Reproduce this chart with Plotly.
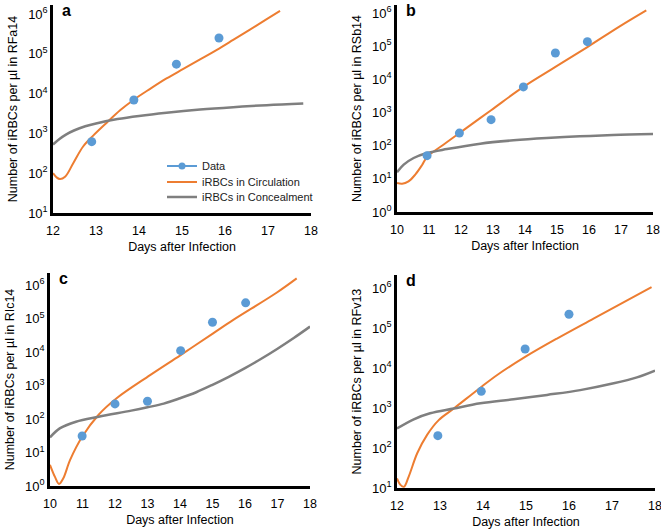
import plotly.graph_objs as go

# panel a - RFa14
a_data_day = [12.9, 13.88, 14.87, 15.86]
a_data_val = [620, 6900, 55000, 250000]
a_circ_day = [12.0, 12.08, 12.16, 12.28, 12.47, 12.70, 12.94, 13.25, 13.56, 13.87, 14.26, 14.64,
              15.03, 15.42, 15.81, 16.19, 16.58, 16.97, 17.28]
a_circ_val = [100, 79, 71, 81, 178, 468, 891, 1860, 3800, 6920, 13200, 24000,
              41700, 72400, 126000, 224000, 407000, 741000, 1200000]
a_conc_day = [12.0, 12.15, 12.3, 12.5, 12.75, 13.0, 13.5, 14.0, 14.64, 15.42, 16.19, 16.97, 17.82]
a_conc_val = [525, 724, 933, 1200, 1510, 1780, 2290, 2750, 3310, 3980, 4570, 5130, 5620]

# panel b - RSb14
b_data_day = [10.94, 11.95, 12.94, 13.95, 14.95, 15.95]
b_data_val = [50, 240, 610, 5900, 62000, 137000]
b_circ_day = [10.0, 10.16, 10.36, 10.57, 10.78, 10.94, 11.45, 11.95, 12.94, 13.95, 14.95, 15.95,
              16.96, 17.79]
b_circ_val = [7.5, 7.1, 8.4, 13.4, 25.7, 45.7, 107, 240, 1170, 5900, 23600, 94000,
              396000, 1200000]
b_conc_day = [10.0, 10.21, 10.52, 10.94, 11.56, 12.60, 13.64, 14.68, 15.71, 16.75, 18.0]
b_conc_val = [15.8, 26.8, 42.5, 60, 79, 115, 145, 170, 191, 209, 224]

# panel c - RIc14
c_data_day = [10.99, 12.0, 13.0, 14.02, 15.0, 16.02]
c_data_val = [31, 282, 339, 11000, 77600, 295000]
c_circ_day = [10.0, 10.15, 10.28, 10.41, 10.62, 10.99, 11.49, 12.05, 13.08, 14.02, 15.02, 15.64,
              16.97, 17.59]
c_circ_val = [4.3, 1.9, 1.15, 1.7, 6.0, 29.5, 132, 417, 2040, 8130, 36300, 91200,
              589000, 1580000]
c_conc_day = [10.0, 10.3, 10.8, 11.5, 12.5, 13.0, 13.5, 14.0, 14.5, 15.0, 15.5, 16.0,
              16.5, 17.0, 17.5, 18.0]
c_conc_val = [28.2, 52.5, 83.2, 117, 178, 224, 288, 417, 631, 1050, 1820, 3310,
              6310, 12600, 26300, 57500]

# panel d - RFv13
d_data_day = [12.95, 13.96, 14.98, 16.0]
d_data_val = [204, 2630, 30200, 224000]
d_circ_day = [12.0, 12.08, 12.16, 12.27, 12.47, 12.70, 12.97, 13.32, 13.96, 14.33, 14.98, 15.72,
              16.57, 17.92]
d_circ_val = [17.4, 12.0, 10.7, 19.1, 74, 214, 501, 977, 3390, 6760, 19100, 55000,
              174000, 1070000]
d_conc_day = [12.0, 12.39, 12.77, 13.32, 13.94, 14.71, 15.49, 16.26, 17.04, 17.58, 18.0]
d_conc_val = [309, 525, 741, 977, 1320, 1660, 2140, 2820, 4170, 5890, 8710]

legend_names = ['Data', 'iRBCs in Circulation', 'iRBCs in Concealment']
panel_letters = ['a', 'b', 'c', 'd']
strains = ['RFa14', 'RSb14', 'RIc14', 'RFv13']

BLUE = '#5B9BD5'
ORANGE = '#ED7D31'
GRAY = '#7F7F7F'
FONT = 'Liberation Sans, Arial, sans-serif'

panels = [
    (a_data_day, a_data_val, a_circ_day, a_circ_val, a_conc_day, a_conc_val),
    (b_data_day, b_data_val, b_circ_day, b_circ_val, b_conc_day, b_conc_val),
    (c_data_day, c_data_val, c_circ_day, c_circ_val, c_conc_day, c_conc_val),
    (d_data_day, d_data_val, d_circ_day, d_circ_val, d_conc_day, d_conc_val),
]

# domains in paper coords, measured from the 661x529 picture
x_domains = [[0.0802, 0.4705], [0.6006, 0.9879], [0.0756, 0.469], [0.6006, 0.9909]]
y_domains = [[0.5974, 0.9905], [0.5992, 0.9905], [0.0813, 0.4839], [0.0775, 0.480]]
x_ranges = [[12, 18], [10, 18], [10, 18], [12, 18]]
y_ranges = [[1, 6.226], [0, 6.24], [0, 6.36], [1, 6.33]]

fig = go.Figure()

# legend-only entry for Data (line with dots)
fig.add_trace(go.Scatter(x=[None], y=[None], mode='lines+markers', name=legend_names[0],
                         line=dict(color=BLUE, width=2), marker=dict(color=BLUE, size=7),
                         legend='legend', xaxis='x', yaxis='y'))

for i, (dd, dv, cd, cv, nd, nv) in enumerate(panels):
    xa = 'x' if i == 0 else 'x' + str(i + 1)
    ya = 'y' if i == 0 else 'y' + str(i + 1)
    fig.add_trace(go.Scatter(x=cd, y=cv, mode='lines', name=legend_names[1],
                             line=dict(color=ORANGE, width=2, shape='spline', smoothing=1.0),
                             showlegend=(i == 0), legend='legend2', xaxis=xa, yaxis=ya))
    fig.add_trace(go.Scatter(x=nd, y=nv, mode='lines', name=legend_names[2],
                             line=dict(color=GRAY, width=2.5, shape='spline', smoothing=1.0),
                             showlegend=(i == 0), legend='legend3', xaxis=xa, yaxis=ya))
    fig.add_trace(go.Scatter(x=dd, y=dv, mode='markers', name=legend_names[0],
                             marker=dict(color=BLUE, size=9),
                             showlegend=False, xaxis=xa, yaxis=ya))

# one legend per row so the rows can sit as tight as in the original
leg = dict(x=162 / 661, xanchor='left', yanchor='middle', font=dict(size=11, color='#222'),
           bgcolor='rgba(0,0,0,0)', itemwidth=30)

layout = dict(
    width=661, height=529,
    margin=dict(l=0, r=0, t=0, b=0, autoexpand=False),
    paper_bgcolor='white', plot_bgcolor='white',
    font=dict(family=FONT, size=12, color='black'),
    showlegend=True,
    legend=dict(leg, y=1 - 166 / 529),
    legend2=dict(leg, y=1 - 182 / 529),
    legend3=dict(leg, y=1 - 197 / 529),
)

for i in range(4):
    xk = 'xaxis' if i == 0 else 'xaxis' + str(i + 1)
    yk = 'yaxis' if i == 0 else 'yaxis' + str(i + 1)
    xa = 'x' if i == 0 else 'x' + str(i + 1)
    ya = 'y' if i == 0 else 'y' + str(i + 1)
    lo, hi = x_ranges[i]
    exps = list(range(int(y_ranges[i][0]), 7))
    layout[xk] = dict(domain=x_domains[i], range=x_ranges[i], anchor=ya, automargin=False,
                      tickvals=list(range(lo, hi + 1)), showgrid=False, zeroline=False,
                      showline=True, linecolor='black', linewidth=2.5, ticks='',
                      ticklabelstandoff=4, ticklabeloverflow='allow',
                      tickfont=dict(size=12.5), title=dict(text='Days after Infection',
                                                           font=dict(size=12.5), standoff=6))
    layout[yk] = dict(domain=y_domains[i], type='log', range=y_ranges[i], anchor=xa,
                      automargin=False,
                      tickvals=[10 ** e for e in exps],
                      ticktext=['10<sup>%d</sup>' % e for e in exps],
                      showgrid=False, zeroline=False, showline=True, linecolor='black',
                      linewidth=2.5, ticks='', tickfont=dict(size=13),
                      title=dict(text='Number of iRBCs per µl in ' + strains[i],
                                 font=dict(size=12.5), standoff=8))

fig.update_layout(layout)

# panel letters
for i in range(4):
    fig.add_annotation(x=x_domains[i][0] + 0.01, y=y_domains[i][1] + 0.01, xref='paper', yref='paper',
                       text='<b>' + panel_letters[i] + '</b>', showarrow=False,
                       xanchor='left', yanchor='top', font=dict(size=16, color='black'))

# page body has an 8px default margin; drop it so the figure fills the window
fig.write_html("out.html", config={'displayModeBar': False},
               post_script="document.body.style.margin='0';")
